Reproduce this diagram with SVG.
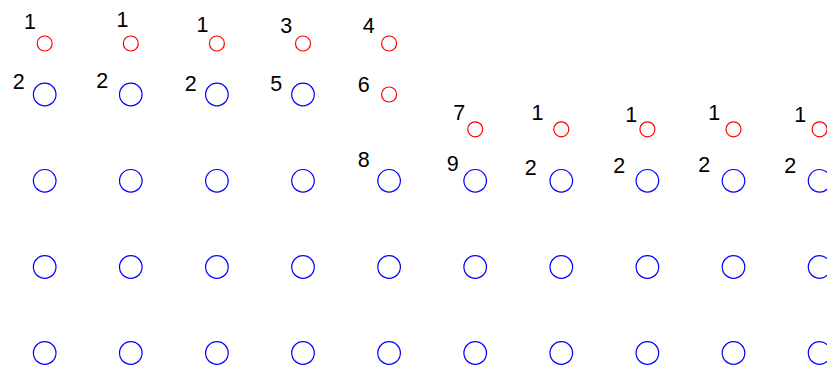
<svg xmlns="http://www.w3.org/2000/svg" width="827" height="369" viewBox="0 0 827 369">
<style>
.r{fill:none;stroke:#ff0000;stroke-width:1.2}
.b{fill:none;stroke:#0000ff;stroke-width:1.2}
text{font-family:"Liberation Sans",Arial,sans-serif;font-size:21.5px;fill:#000;text-anchor:middle}
</style>
<rect width="827" height="369" fill="#fff"/>
<g id="nodes">
<g id="r1"><circle class="r" cx="44.7" cy="43.5" r="7.5"/><text x="29.9" y="28.7">1</text></g>
<g id="r2"><circle class="r" cx="130.8" cy="43.5" r="7.5"/><text x="122.5" y="26.7">1</text></g>
<g id="r3"><circle class="r" cx="216.9" cy="43.5" r="7.5"/><text x="202.5" y="31.7">1</text></g>
<g id="r4"><circle class="r" cx="303" cy="43.5" r="7.5"/><text x="286.2" y="33.2">3</text></g>
<g id="r5"><circle class="r" cx="389.1" cy="43.5" r="7.5"/><text x="368.8" y="33.2">4</text></g>
<g id="r6"><circle class="r" cx="389.1" cy="94.5" r="7.5"/><text x="363.8" y="91.5">6</text></g>
<g id="r7"><circle class="r" cx="475.2" cy="129.3" r="7.5"/><text x="459.2" y="119.9">7</text></g>
<g id="r8"><circle class="r" cx="561.3" cy="129.3" r="7.5"/><text x="537.5" y="119.9">1</text></g>
<g id="r9"><circle class="r" cx="647.4" cy="129.3" r="7.5"/><text x="631.2" y="122.2">1</text></g>
<g id="r10"><circle class="r" cx="733.5" cy="129.3" r="7.5"/><text x="714.2" y="119.9">1</text></g>
<g id="r11"><circle class="r" cx="819.6" cy="129.3" r="7.5"/><text x="800.2" y="122.2">1</text></g>

<g id="b1"><circle class="b" cx="44.7" cy="94.5" r="11.3"/><text x="18.8" y="88.7">2</text></g>
<g id="b2"><circle class="b" cx="130.8" cy="94.5" r="11.3"/><text x="102.2" y="88.2">2</text></g>
<g id="b3"><circle class="b" cx="216.9" cy="94.5" r="11.3"/><text x="190.8" y="90.7">2</text></g>
<g id="b4"><circle class="b" cx="303" cy="94.5" r="11.3"/><text x="276.2" y="90.9">5</text></g>
<g id="b5"><circle class="b" cx="389.1" cy="180.8" r="11.3"/><text x="363.8" y="166.7">8</text></g>
<g id="b6"><circle class="b" cx="475.2" cy="180.8" r="11.3"/><text x="452.8" y="170.9">9</text></g>
<g id="b7"><circle class="b" cx="561.3" cy="180.8" r="11.3"/><text x="530.8" y="174.9">2</text></g>
<g id="b8"><circle class="b" cx="647.4" cy="180.8" r="11.3"/><text x="619.2" y="173.2">2</text></g>
<g id="b9"><circle class="b" cx="733.5" cy="180.8" r="11.3"/><text x="704.2" y="172.2">2</text></g>
<g id="b10"><circle class="b" cx="819.6" cy="180.8" r="11.3"/><text x="790.2" y="173.2">2</text></g>

<g id="c1a"><circle class="b" cx="44.7" cy="180.8" r="11.3"/></g>
<g id="c2a"><circle class="b" cx="130.8" cy="180.8" r="11.3"/></g>
<g id="c3a"><circle class="b" cx="216.9" cy="180.8" r="11.3"/></g>
<g id="c4a"><circle class="b" cx="303" cy="180.8" r="11.3"/></g>

<g id="c1b"><circle class="b" cx="44.7" cy="267" r="11.3"/></g>
<g id="c2b"><circle class="b" cx="130.8" cy="267" r="11.3"/></g>
<g id="c3b"><circle class="b" cx="216.9" cy="267" r="11.3"/></g>
<g id="c4b"><circle class="b" cx="303" cy="267" r="11.3"/></g>
<g id="c5b"><circle class="b" cx="389.1" cy="267" r="11.3"/></g>
<g id="c6b"><circle class="b" cx="475.2" cy="267" r="11.3"/></g>
<g id="c7b"><circle class="b" cx="561.3" cy="267" r="11.3"/></g>
<g id="c8b"><circle class="b" cx="647.4" cy="267" r="11.3"/></g>
<g id="c9b"><circle class="b" cx="733.5" cy="267" r="11.3"/></g>
<g id="c10b"><circle class="b" cx="819.6" cy="267" r="11.3"/></g>

<g id="c1c"><circle class="b" cx="44.7" cy="353" r="11.3"/></g>
<g id="c2c"><circle class="b" cx="130.8" cy="353" r="11.3"/></g>
<g id="c3c"><circle class="b" cx="216.9" cy="353" r="11.3"/></g>
<g id="c4c"><circle class="b" cx="303" cy="353" r="11.3"/></g>
<g id="c5c"><circle class="b" cx="389.1" cy="353" r="11.3"/></g>
<g id="c6c"><circle class="b" cx="475.2" cy="353" r="11.3"/></g>
<g id="c7c"><circle class="b" cx="561.3" cy="353" r="11.3"/></g>
<g id="c8c"><circle class="b" cx="647.4" cy="353" r="11.3"/></g>
<g id="c9c"><circle class="b" cx="733.5" cy="353" r="11.3"/></g>
<g id="c10c"><circle class="b" cx="819.6" cy="353" r="11.3"/></g>
</g>
<g id="connectors"/>
</svg>
